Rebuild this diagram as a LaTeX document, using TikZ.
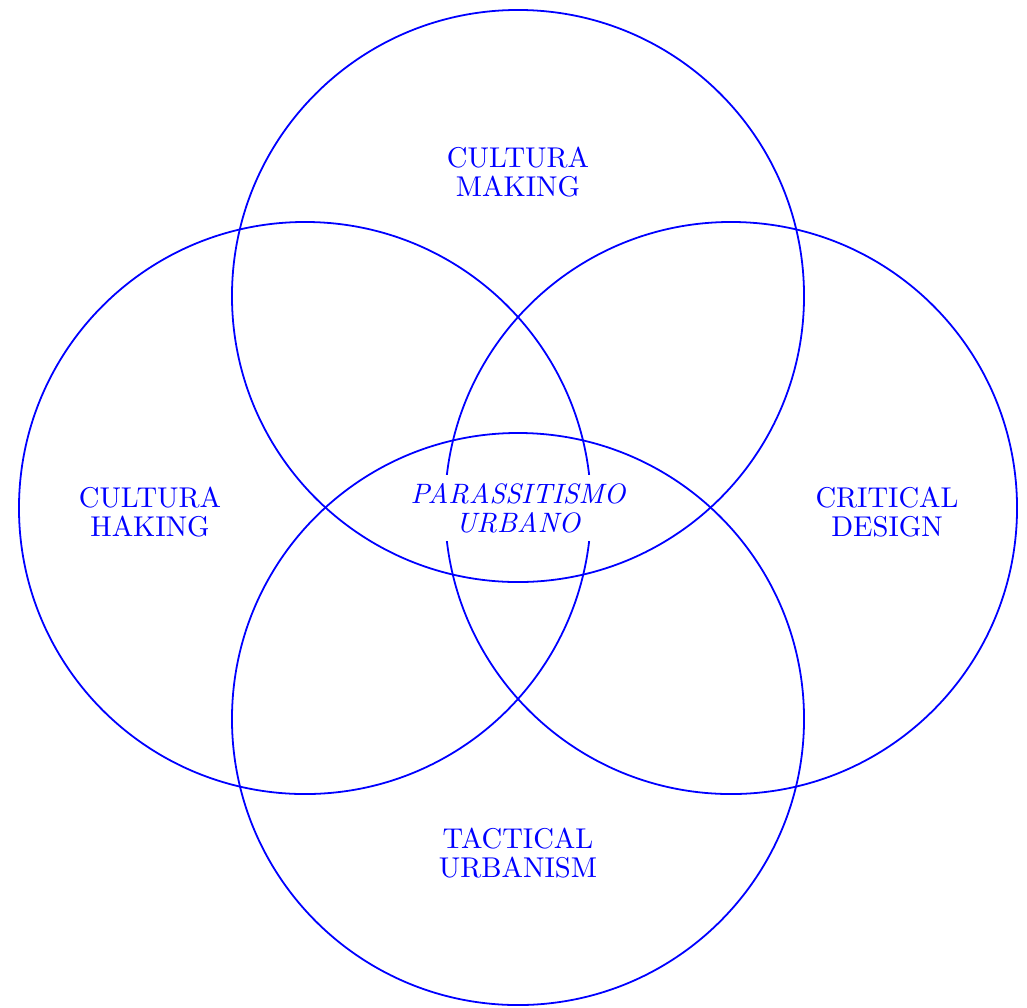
\documentclass[tikz,border=0pt]{standalone}
\usepackage{tikz}
\usetikzlibrary{positioning}

\begin{document}
\begin{tikzpicture}[
  x = 0.3636pt, y = -0.3636pt,
  every node/.style = {font=\fontsize{10.4}{10.5}\selectfont, text=blue},
  ring/.style  = {circle, draw=blue, line width=0.65pt, minimum size=208pt,
                  inner sep=0pt},
  area/.style  = {align=center, inner sep=2pt},
  core/.style  = {area, fill=white, inner sep=3pt, font=\fontsize{10.2}{10.5}\selectfont\itshape}
]
\useasboundingbox (0,0) rectangle (1027,1007);

% ---- the four fields ---------------------------------------------------
\node[ring] (making)   at (518,296) {};
\node[ring] (haking)   at (305,508) {};
\node[ring] (critical) at (731,508) {};
\node[ring] (tactical) at (518,719) {};

% ---- field names ------------------------------------------------------
\node[area] (lmaking)   at (518,172) {CULTURA\\MAKING};
\node[area] (lhaking)   at (150,512) {CULTURA\\HAKING};
\node[area] (lcritical) at (887,512) {CRITICAL\\DESIGN};
\node[area] (ltactical) at (518,853) {TACTICAL\\URBANISM};

% ---- the overlap in the middle ----------------------------------------
\node[core] (parass) at (518,508) {PARASSITISMO\\URBANO};

\end{tikzpicture}
\end{document}
